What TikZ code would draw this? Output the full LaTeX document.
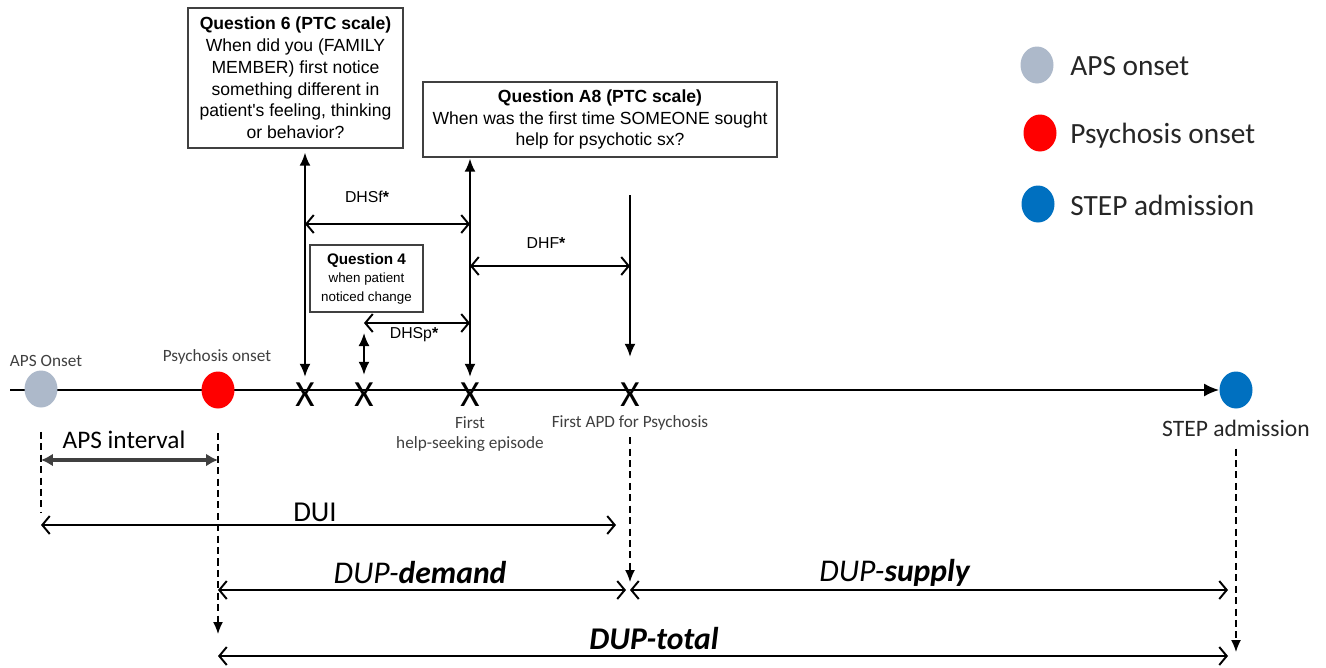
\documentclass[tikz,border=0pt]{standalone}
\usepackage{fontspec}
\setmainfont{Carlito}
\newfontfamily\arialfont{Liberation Sans}
\usetikzlibrary{positioning}
\usetikzlibrary{calc}
\usetikzlibrary{arrows.meta}
\usetikzlibrary{shapes.geometric}
\usetikzlibrary{backgrounds}

\definecolor{apsgray}{HTML}{ADB9CA}
\definecolor{psyred}{HTML}{FF0000}
\definecolor{stepblue}{HTML}{0070C0}
\definecolor{tickgray}{HTML}{404040}

\begin{document}
\begin{tikzpicture}[x=0.02cm, y=-0.02cm,
	onset/.style={ellipse,inner sep=0pt,minimum width=0.66cm,minimum height=0.74cm},
	qbox/.style={rectangle,draw=black!75,line width=.8pt,align=center,inner sep=0pt,font=\arialfont\fontsize{10}{12.4}\selectfont},
	xmark/.style={inner sep=0pt,font=\fontsize{21}{21}\selectfont},
	tick/.style={inner sep=0pt,text=tickgray,align=center,font=\fontsize{9.8}{11.6}\selectfont},
	legend/.style={inner sep=0pt,text=black!85,font=\fontsize{16.7}{18}\selectfont},
	vbar/.style={line width=1.1pt,{Latex[length=2.6mm,width=2.2mm]}-{Latex[length=2.6mm,width=2.2mm]}},
	span/.style={line width=1.1pt,{Straight Barb[length=1.5mm,width=3.6mm]}-{Straight Barb[length=1.5mm,width=3.6mm]}},
	gap/.style={inner sep=0pt,font=\arialfont\fontsize{9}{10}\selectfont},
	guide/.style={line width=.8pt,dash pattern=on 4pt off 2.5pt,-{Latex[length=2.4mm,width=2mm]}},
	period/.style={inner sep=0pt,font=\fontsize{18}{20}\selectfont}]
	\useasboundingbox (0,0) rectangle (1326,667);

	% time line
	\node[onset,fill=apsgray] (aps) at (41,389) {};
	\node[onset,fill=psyred] (psy) at (218,390) {};
	\node[onset,fill=stepblue] (step) at (1236,390) {};
	\coordinate (start) at (10,390);
	\begin{scope}[on background layer]
		\draw[line width=1.2pt,-{Latex[length=3mm,width=2.6mm]}] (start) -- (step.west);
	\end{scope}
	\node[xmark] (xfam) at (305,395) {X};
	\node[xmark] (xpat) at (364,395) {X};
	\node[xmark] (xhelp) at (470,395) {X};
	\node[xmark] (xapd) at (630,395) {X};

	\node[tick] (apslab) at (46,361) {APS Onset};
	\node[tick] (psylab) at (217,357) {Psychosis onset};
	\node[tick] (helplab) at (470,434) {First\\help-seeking episode};
	\node[tick] (apdlab) at (630,423) {First APD for Psychosis};
	\node[tick,text=black!85,font=\fontsize{13.4}{15}\selectfont] (steplab) at (1236,428) {STEP admission};

	% questions
	\node[qbox,minimum width=4.3cm,minimum height=2.8cm] (q6) at (295.5,78) {\textbf{Question 6 (PTC scale)}\\When did you (FAMILY\\MEMBER) first notice\\something different in\\patient's feeling, thinking\\or behavior?};
	\node[qbox,minimum width=7.08cm,minimum height=1.5cm] (qa8) at (600,119.5) {\textbf{Question A8 (PTC scale)}\\When was the first time SOMEONE sought\\help for psychotic sx?};
	\node[qbox,minimum width=2.26cm,minimum height=1.34cm,font=\arialfont\fontsize{7.6}{10.5}\selectfont] (q4) at (366.5,278.5) {{\fontsize{8.7}{10.5}\selectfont\textbf{Question 4}}\\when patient\\noticed change};

	\coordinate (apdtop) at (630,195);
	\coordinate (pattop) at (364,333);
	\draw[vbar] ($(q6.south -| xfam)+(0,4)$) -- ($(xfam.north)+(0,-6)$);
	\draw[vbar] ($(qa8.south -| xhelp)+(0,1)$) -- ($(xhelp.north)+(0,-6)$);
	\draw[vbar] (pattop) -- ($(xpat.north)+(0,-8)$);
	\draw[line width=1.1pt,-{Latex[length=2.6mm,width=2.2mm]}] (apdtop) -- ($(xapd.north)+(0,-26)$);

	% delays to help seeking
	\coordinate (dhsf) at (0,224);
	\coordinate (dhf) at (0,266);
	\coordinate (dhsp) at (0,323);
	\draw[span] (dhsf -| xfam) -- (dhsf -| xhelp);
	\draw[span] (dhf -| xhelp) -- (dhf -| xapd);
	\draw[span] (dhsp -| xpat) -- (dhsp -| xhelp);
	\node[gap] (dhsflab) at (367,197) {DHSf\textbf{*}};
	\node[gap] (dhflab) at (546,243) {DHF\textbf{*}};
	\node[gap] (dhsplab) at (414,335) {DHSp\textbf{*}};

	% intervals
	\coordinate (apsend) at (41,512);
	\coordinate (psyend) at (218,634);
	\coordinate (apdend) at (630,582);
	\coordinate (stepend) at (1236,652);
	\draw[guide,-] ($(aps.south)+(0,24)$) -- (apsend);
	\draw[guide] ($(psy.south)+(0,24)$) -- (psyend);
	\draw[guide] ($(xapd.south)+(0,30)$) -- (apdend);
	\draw[guide] ($(steplab.south)+(0,12)$) -- (stepend);

	\coordinate (apsint) at (0,460);
	\coordinate (dui) at (0,525);
	\coordinate (dup) at (0,590);
	\coordinate (duptot) at (0,656);
	\draw[line width=2pt,draw=black!75,{Latex[length=2.4mm,width=2.6mm]}-{Latex[length=2.4mm,width=2.6mm]}] (apsint -| aps) -- (apsint -| psy);
	\draw[span] (dui -| aps) -- ($(dui -| xapd)+(-14,0)$);
	\draw[span] (dup -| psy) -- ($(dup -| xapd)+(-4,0)$);
	\draw[span] (dup -| xapd) -- ($(dup -| step)+(-8,0)$);
	\draw[span] (duptot -| psy) -- ($(duptot -| step)+(-8,0)$);
	\node[period,font=\fontsize{14.4}{16}\selectfont] (apsintlab) at (124,440) {APS interval};
	\node[period,font=\fontsize{16.4}{18}\selectfont] (duilab) at (315,512) {DUI};
	\node[period] (demandlab) at (420,573) {\textit{DUP-\textbf{demand}}};
	\node[period] (supplylab) at (895,573) {\textit{DUP-\textbf{supply}}};
	\node[period] (totallab) at (654,639) {\textbf{\textit{DUP-total}}};

	% legend
	\node[onset,fill=apsgray] (legaps) at (1037,65) {};
	\node[onset,fill=psyred] (legpsy) at (1040,133) {};
	\node[onset,fill=stepblue] (legstep) at (1038,204) {};
	\node[legend,anchor=west] (legapslab) at (1070,66) {APS onset};
	\node[legend,anchor=west] (legpsylab) at (1070,136) {Psychosis onset};
	\node[legend,anchor=west] (legsteplab) at (1070,205) {STEP admission};
\end{tikzpicture}
\end{document}
